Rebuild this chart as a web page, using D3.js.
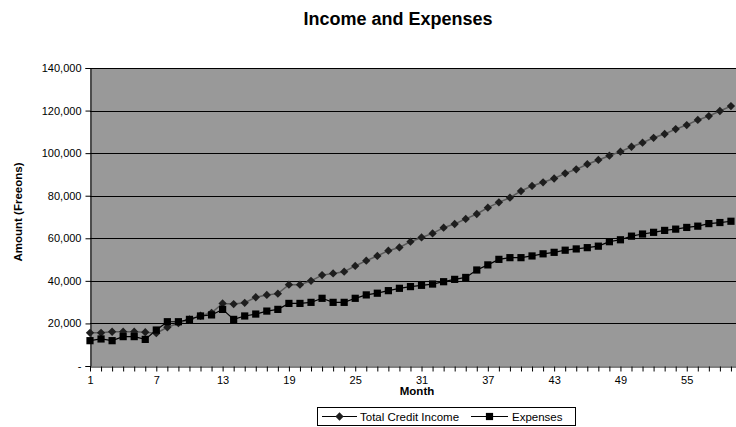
<!DOCTYPE html>
<html>
<head>
<meta charset="utf-8">
<script src="https://cdn.jsdelivr.net/npm/d3@7"></script>
<style>
  html, body { margin: 0; padding: 0; background: #fff; }
  svg { display: block; font-family: "Liberation Sans", Arial, sans-serif; }
</style>
</head>
<body>
<svg id="chart" width="736" height="427"></svg>
<script>
// Monthly figures, in Freeons
const months = d3.range(1, 60);
const income = [
  15600, 15600, 16100, 16100, 16100, 15900, 15400, 18200, 20100, 21900,
  23600, 25000, 29400, 29100, 29700, 32300, 33400, 34000, 38200, 38200,
  40000, 42700, 43500, 44300, 47000, 49500, 51700, 54200, 55700, 58400,
  60400, 62300, 65000, 66700, 69100, 71400, 74400, 76900, 79100, 82200,
  84600, 86300, 88100, 90500, 92400, 94800, 96800, 98800, 100700, 103000,
  104900, 107200, 109000, 111300, 113200, 115600, 117400, 119800, 122100
];
const expenses = [
  11900, 12700, 11900, 13800, 13800, 12500, 16900, 20800, 20800, 21900,
  23500, 24000, 26600, 21900, 23500, 24400, 25800, 26600, 29400, 29400,
  29900, 31800, 29900, 29900, 31800, 33400, 34200, 35400, 36500, 37300,
  37900, 38500, 39600, 40700, 41600, 45100, 47500, 50100, 50900, 50900,
  51700, 52700, 53400, 54400, 55000, 55600, 56300, 58400, 59300, 61000,
  62000, 62800, 63700, 64300, 65100, 65700, 66900, 67400, 68000
];
const yTicks = [0, 20000, 40000, 60000, 80000, 100000, 120000, 140000];
const xLabelMonths = [1, 7, 13, 19, 25, 31, 37, 43, 49, 55];
const seriesNames = ["Total Credit Income", "Expenses"];

const svg = d3.select("#chart");
const plotLeft = 90, plotRight = 742, plotTop = 68, plotBottom = 366;

const x = d3.scaleLinear().domain([1, 60]).range([plotLeft, plotRight]);
const y = d3.scaleLinear().domain([0, 140000]).range([plotBottom, plotTop]);

// Plot area
svg.append("rect")
  .attr("x", plotLeft).attr("y", plotTop)
  .attr("width", plotRight - plotLeft).attr("height", plotBottom - plotTop)
  .attr("fill", "#999999");

// Horizontal gridlines
svg.append("g")
  .selectAll("line")
  .data(yTicks.filter(d => d > 0))
  .join("line")
  .attr("x1", plotLeft).attr("x2", plotRight)
  .attr("y1", d => Math.round(y(d)) + 0.5).attr("y2", d => Math.round(y(d)) + 0.5)
  .attr("stroke", "#000").attr("stroke-width", 1);

// Y axis
const yAxis = d3.axisLeft(y)
  .tickValues(yTicks)
  .tickSize(5)
  .tickPadding(4)
  .tickFormat(d => d === 0 ? "-" : d3.format(",")(d));
svg.append("g")
  .attr("transform", `translate(${plotLeft + 0.5},0)`)
  .call(yAxis)
  .call(g => g.selectAll("text").attr("font-size", 11).attr("fill", "#000"))
  .call(g => g.selectAll("line, path").attr("stroke", "#000"));

// X axis: a tick for every month, labels every sixth month
const xAxis = d3.axisBottom(x)
  .tickValues(d3.range(1, 61))
  .tickSize(5)
  .tickSizeOuter(0)
  .tickPadding(5)
  .tickFormat(d => xLabelMonths.includes(d) ? d : "");
svg.append("g")
  .attr("transform", `translate(0,${plotBottom + 0.5})`)
  .call(xAxis)
  .call(g => g.selectAll("text").attr("font-size", 11).attr("fill", "#000"))
  .call(g => g.selectAll("line, path").attr("stroke", "#000"));

// Series lines
const line = d3.line().x((d, i) => x(months[i])).y(d => y(d));
svg.append("path").datum(income)
  .attr("d", line).attr("fill", "none")
  .attr("stroke", "#5a5a5a").attr("stroke-width", 1.5);
svg.append("path").datum(expenses)
  .attr("d", line).attr("fill", "none")
  .attr("stroke", "#000").attr("stroke-width", 1.2);

// Markers
const diamond = d3.symbol().type(d3.symbolDiamond2).size(44);
const square = d3.symbol().type(d3.symbolSquare).size(52);
svg.append("g").selectAll("path")
  .data(income).join("path")
  .attr("d", diamond)
  .attr("transform", (d, i) => `translate(${x(months[i])},${y(d)})`)
  .attr("fill", "#1e1e1e");
svg.append("g").selectAll("path")
  .data(expenses).join("path")
  .attr("d", square)
  .attr("transform", (d, i) => `translate(${x(months[i])},${y(d)})`)
  .attr("fill", "#000");

// Titles
svg.append("text")
  .attr("x", 398).attr("y", 25)
  .attr("text-anchor", "middle")
  .attr("font-size", 18).attr("font-weight", "bold")
  .text("Income and Expenses");

svg.append("text")
  .attr("transform", "translate(22,212) rotate(-90)")
  .attr("text-anchor", "middle")
  .attr("font-size", 11.5).attr("font-weight", "bold")
  .text("Amount (Freeons)");

svg.append("text")
  .attr("x", 417).attr("y", 395)
  .attr("text-anchor", "middle")
  .attr("font-size", 11.5).attr("font-weight", "bold")
  .text("Month");

// Legend
const legend = svg.append("g");
legend.append("rect")
  .attr("x", 317.5).attr("y", 407.5)
  .attr("width", 258).attr("height", 18)
  .attr("fill", "#fff").attr("stroke", "#000");

const legendItems = [
  { name: seriesNames[0], x0: 322, x1: 357, sym: diamond, color: "#1e1e1e", tx: 360 },
  { name: seriesNames[1], x0: 471, x1: 508, sym: square, color: "#000", tx: 512 }
];
legendItems.forEach(it => {
  legend.append("line")
    .attr("x1", it.x0).attr("x2", it.x1)
    .attr("y1", 416.5).attr("y2", 416.5)
    .attr("stroke", "#000");
  legend.append("path")
    .attr("d", it.sym)
    .attr("transform", `translate(${(it.x0 + it.x1) / 2},416.5)`)
    .attr("fill", it.color);
  legend.append("text")
    .attr("x", it.tx).attr("y", 420.5)
    .attr("font-size", 11.5)
    .text(it.name);
});
</script>
</body>
</html>
